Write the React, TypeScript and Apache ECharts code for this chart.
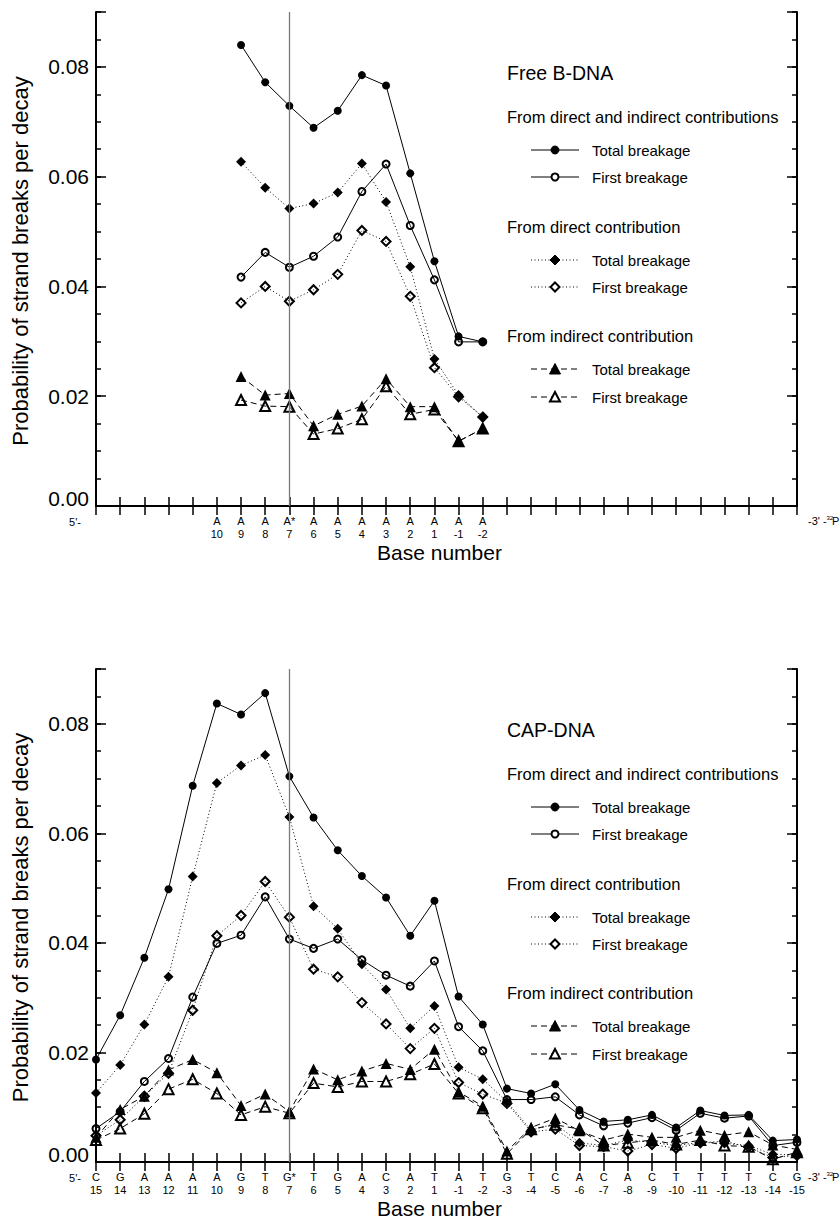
import React, { useEffect, useRef } from 'react';
import * as echarts from 'echarts';

// Base positions along the strand (shared by both panels)
const baseNumbers = ['15', '14', '13', '12', '11', '10', '9', '8', '7', '6', '5', '4', '3', '2', '1',
  '-1', '-2', '-3', '-4', '-5', '-6', '-7', '-8', '-9', '-10', '-11', '-12', '-13', '-14', '-15'];

// CAP-DNA sequence
const capBases = ['C', 'G', 'A', 'A', 'A', 'A', 'G', 'T', 'G*', 'T', 'G', 'A', 'C', 'A', 'T',
  'A', 'T', 'G', 'T', 'C', 'A', 'C', 'A', 'C', 'T', 'T', 'T', 'T', 'C', 'G'];

// Free B-DNA sequence (positions 10 .. -2)
const freeNumbers = ['10', '9', '8', '7', '6', '5', '4', '3', '2', '1', '-1', '-2'];
const freeBases = ['A', 'A', 'A', 'A*', 'A', 'A', 'A', 'A', 'A', 'A', 'A', 'A'];

// Free B-DNA probabilities (aligned with freeNumbers)
const freeTotalAll = [null, 0.0840, 0.0772, 0.0729, 0.0689, 0.0720, 0.0785, 0.0766, 0.0606, 0.0446, 0.0309, 0.0299];
const freeFirstAll = [null, 0.0417, 0.0462, 0.0435, 0.0455, 0.0490, 0.0573, 0.0623, 0.0511, 0.0412, 0.0299, 0.0299];
const freeTotalDirect = [null, 0.0627, 0.0580, 0.0542, 0.0551, 0.0571, 0.0624, 0.0554, 0.0436, 0.0268, 0.0202, 0.0162];
const freeFirstDirect = [null, 0.0370, 0.0400, 0.0373, 0.0394, 0.0422, 0.0502, 0.0482, 0.0382, 0.0252, 0.0199, 0.0162];
const freeTotalIndirect = [null, 0.0236, 0.0202, 0.0205, 0.0146, 0.0167, 0.0182, 0.0232, 0.0181, 0.0181, 0.0118, 0.0141];
const freeFirstIndirect = [null, 0.0193, 0.0182, 0.0181, 0.0131, 0.0141, 0.0158, 0.0218, 0.0167, 0.0176, 0.0118, 0.0141];

// CAP-DNA probabilities (aligned with baseNumbers)
const capTotalAll = [0.0187, 0.0268, 0.0373, 0.0498, 0.0687, 0.0837, 0.0817, 0.0856, 0.0704, 0.0629,
  0.0569, 0.0522, 0.0483, 0.0413, 0.0477, 0.0302, 0.0251, 0.0134, 0.0125, 0.0142,
  0.0095, 0.0074, 0.0077, 0.0086, 0.0063, 0.0094, 0.0085, 0.0086, 0.0039, 0.0041];
const capFirstAll = [0.0061, 0.0092, 0.0147, 0.0189, 0.0301, 0.0399, 0.0414, 0.0484, 0.0407, 0.0390,
  0.0407, 0.0369, 0.0341, 0.0321, 0.0367, 0.0247, 0.0203, 0.0114, 0.0114, 0.0119,
  0.0086, 0.0066, 0.0071, 0.0081, 0.0058, 0.0089, 0.0080, 0.0084, 0.0030, 0.0036];
const capTotalDirect = [0.0126, 0.0177, 0.0251, 0.0338, 0.0521, 0.0692, 0.0724, 0.0743, 0.0630, 0.0467,
  0.0426, 0.0361, 0.0315, 0.0244, 0.0285, 0.0173, 0.0151, 0.0110, 0.0058, 0.0070,
  0.0035, 0.0030, 0.0040, 0.0036, 0.0030, 0.0036, 0.0034, 0.0030, 0.0014, 0.0013];
const capFirstDirect = [0.0048, 0.0077, 0.0120, 0.0162, 0.0277, 0.0413, 0.0450, 0.0512, 0.0447, 0.0352,
  0.0338, 0.0291, 0.0252, 0.0207, 0.0244, 0.0145, 0.0124, 0.0107, 0.0055, 0.0060,
  0.0030, 0.0028, 0.0020, 0.0032, 0.0025, 0.0035, 0.0038, 0.0027, 0.0008, 0.0012];
const capTotalIndirect = [0.0045, 0.0096, 0.0120, 0.0168, 0.0187, 0.0163, 0.0103, 0.0124, 0.0092, 0.0170,
  0.0150, 0.0166, 0.0180, 0.0169, 0.0206, 0.0128, 0.0102, 0.0020, 0.0063, 0.0080,
  0.0057, 0.0040, 0.0051, 0.0045, 0.0045, 0.0058, 0.0049, 0.0055, 0.0031, 0.0023];
const capFirstIndirect = [0.0040, 0.0061, 0.0088, 0.0133, 0.0151, 0.0125, 0.0086, 0.0101, 0.0089, 0.0144,
  0.0137, 0.0147, 0.0147, 0.0160, 0.0179, 0.0125, 0.0098, 0.0015, 0.0060, 0.0068,
  0.0060, 0.0030, 0.0035, 0.0040, 0.0032, 0.0040, 0.0030, 0.0028, 0.0005, 0.0018];

const yTicks = [0, 0.02, 0.04, 0.06, 0.08];

const FONT = "'Liberation Sans', Arial, Helvetica, sans-serif";
const DOTTED = [1, 2.5];
const DASHED = [6, 4];

// Marker / line style for each of the six curves
const curveStyles = [
  { shape: 'circle', filled: true, dash: 'solid' as any, size: 8 },
  { shape: 'circle', filled: false, dash: 'solid' as any, size: 8 },
  { shape: 'diamond', filled: true, dash: DOTTED, size: 10 },
  { shape: 'diamond', filled: false, dash: DOTTED, size: 10 },
  { shape: 'triangle', filled: true, dash: DASHED, size: 11 },
  { shape: 'triangle', filled: false, dash: DASHED, size: 11 },
];

const panels = [
  {
    title: 'Free B-DNA', top: 12, height: 494,
    numbers: freeNumbers,
    curves: [freeTotalAll, freeFirstAll, freeTotalDirect, freeFirstDirect, freeTotalIndirect, freeFirstIndirect],
    label: (v: string) => {
      const i = freeNumbers.indexOf(v);
      return i >= 0 ? freeBases[i] + '\n' + v : '';
    },
  },
  {
    title: 'CAP-DNA', top: 669, height: 493,
    numbers: baseNumbers,
    curves: [capTotalAll, capFirstAll, capTotalDirect, capFirstDirect, capTotalIndirect, capFirstIndirect],
    label: (v: string) => {
      const i = baseNumbers.indexOf(v);
      return capBases[i] + '\n' + v;
    },
  },
];

const GRID_LEFT = 96;
const GRID_RIGHT = 797;
const Y_MAX = 0.09;

function markerGraphic(kind: string, filled: boolean, cx: number, cy: number) {
  const style = filled
    ? { fill: '#000', stroke: '#000', lineWidth: 1 }
    : { fill: '#fff', stroke: '#000', lineWidth: 2 };
  if (kind === 'circle') {
    return { type: 'circle', shape: { cx, cy, r: filled ? 4 : 3.5 }, style };
  }
  if (kind === 'diamond') {
    const r = filled ? 5 : 4.5;
    return { type: 'polygon', shape: { points: [[cx, cy - r], [cx + r, cy], [cx, cy + r], [cx - r, cy]] }, style };
  }
  const h = filled ? 5.5 : 5;
  return { type: 'polygon', shape: { points: [[cx, cy - h], [cx + h, cy + h - 0.5], [cx - h, cy + h - 0.5]] }, style };
}

function legendGraphics(oy: number, title: string) {
  const els: any[] = [];
  const textAt = (x: number, y: number, text: string, size: number) => ({
    type: 'text', x, y: y + oy, silent: true,
    style: { text, fontSize: size, fontFamily: FONT, fill: '#000', textAlign: 'left', textVerticalAlign: 'middle' },
  });
  els.push(textAt(507, 73, title, 19.5));
  const headers = [
    ['From direct and indirect contributions', 117],
    ['From direct contribution', 227],
    ['From indirect contribution', 336],
  ];
  const rows = [150, 177, 260, 287, 369, 397];
  headers.forEach(([t, y]) => els.push(textAt(507, y as number, t as string, 16.5)));
  rows.forEach((y, i) => {
    const st = curveStyles[i];
    const yy = y + oy;
    const lineStyle: any = { stroke: '#000', lineWidth: 1 };
    if (Array.isArray(st.dash)) lineStyle.lineDash = st.dash;
    els.push({ type: 'line', silent: true, shape: { x1: 531, y1: yy, x2: 579, y2: yy }, style: lineStyle });
    els.push({ ...markerGraphic(st.shape, st.filled, 555, yy), silent: true });
    els.push(textAt(592, y, i % 2 === 0 ? 'Total breakage' : 'First breakage', 15));
  });
  return els;
}

function panelTexts(top: number, height: number) {
  const bottom = top + height;
  const els: any[] = [];
  const base = { fontFamily: FONT, fill: '#000' };
  els.push({
    type: 'text', x: 20, y: top + height / 2 + 2, rotation: Math.PI / 2, silent: true,
    style: { ...base, text: 'Probability of strand breaks per decay', fontSize: 22, textAlign: 'center', textVerticalAlign: 'middle' },
  });
  els.push({
    type: 'text', x: (GRID_LEFT + GRID_RIGHT) / 2 - 7, y: bottom + 46, silent: true,
    style: { ...base, text: 'Base number', fontSize: 21, textAlign: 'center', textVerticalAlign: 'middle' },
  });
  els.push({
    type: 'text', x: 75, y: bottom + 16, silent: true,
    style: { ...base, text: "5'-", fontSize: 11, textAlign: 'center', textVerticalAlign: 'middle' },
  });
  els.push({
    type: 'text', x: 808, y: bottom + 15, silent: true,
    style: { ...base, text: "-3' -", fontSize: 11, textAlign: 'left', textVerticalAlign: 'middle' },
  });
  els.push({
    type: 'text', x: 826.5, y: bottom + 12, silent: true,
    style: { ...base, text: '32', fontSize: 6, textAlign: 'left', textVerticalAlign: 'middle' },
  });
  els.push({
    type: 'text', x: 832, y: bottom + 15, silent: true,
    style: { ...base, text: 'P', fontSize: 11, textAlign: 'left', textVerticalAlign: 'middle' },
  });
  return els;
}

function buildOption() {
  const grid: any[] = [];
  const xAxis: any[] = [];
  const yAxis: any[] = [];
  const series: any[] = [];
  const graphic: any[] = [];

  panels.forEach((p, g) => {
    grid.push({ left: GRID_LEFT, width: GRID_RIGHT - GRID_LEFT, top: p.top, height: p.height, containLabel: false });

    const xCommon = {
      gridIndex: g, type: 'category', data: baseNumbers, boundaryGap: false,
      axisLine: { show: true, lineStyle: { color: '#000', width: 2 } },
      axisTick: { show: true, inside: true, length: 9, interval: 0, lineStyle: { color: '#000', width: 1.5 } },
      splitLine: { show: false },
    };
    xAxis.push({
      ...xCommon, position: 'bottom',
      axisLabel: {
        show: true, interval: 0, margin: 8, color: '#000', fontSize: 11, lineHeight: 13, fontFamily: FONT,
        formatter: (v: string) => p.label(v),
      },
    });
    xAxis.push({ ...xCommon, position: 'top', axisLabel: { show: false } });

    ['left', 'right'].forEach((side) => {
      yAxis.push({
        gridIndex: g, type: 'value', position: side, min: 0, max: Y_MAX, interval: 0.005,
        axisLine: { show: true, lineStyle: { color: '#000', width: 2 } },
        axisTick: { show: true, inside: true, length: 5, lineStyle: { color: '#000', width: 1.5 } },
        splitLine: { show: false },
        axisLabel: {
          show: side === 'left', margin: 7, color: '#000', fontSize: 21, fontFamily: FONT,
          // the zero label sits a little above the bottom frame
          rich: { z: { fontSize: 21, fontFamily: FONT, color: '#000', padding: [0, 0, 16, 0] } },
          formatter: (v: number) => {
            const hit = yTicks.find((t) => Math.abs(t - v) < 1e-7);
            if (hit === undefined) return '';
            return hit === 0 ? '{z|' + hit.toFixed(2) + '}' : hit.toFixed(2);
          },
        },
      });
      yAxis.push({
        gridIndex: g, type: 'value', position: side, min: 0, max: Y_MAX, interval: 0.02,
        axisLine: { show: false },
        axisTick: { show: true, inside: true, length: 10, lineStyle: { color: '#000', width: 1.5 } },
        splitLine: { show: false },
        axisLabel: { show: false },
      });
    });

    p.curves.forEach((vals, ci) => {
      const st = curveStyles[ci];
      const data = (vals as (number | null)[])
        .map((v, i) => [p.numbers[i], v])
        .filter((d) => d[1] !== null);
      const s: any = {
        type: 'line', xAxisIndex: g * 2, yAxisIndex: g * 4, data,
        symbol: st.shape, symbolSize: st.filled ? st.size : st.size - 1,
        showAllSymbol: true, silent: true,
        lineStyle: { color: '#000', width: 1, type: st.dash },
        itemStyle: st.filled
          ? { color: '#000', borderColor: '#000', borderWidth: 0 }
          : { color: 'rgba(255,255,255,0)', borderColor: '#000', borderWidth: 2 },
        emphasis: { disabled: true },
        z: 3 + (st.filled ? 1 : 0),
      };
      if (ci === 0) {
        s.markLine = {
          silent: true, symbol: ['none', 'none'], label: { show: false },
          lineStyle: { color: '#7a7a7a', width: 1.3, type: 'solid' },
          data: [{ xAxis: '7' }],
        };
      }
      series.push(s);
    });

    graphic.push(...legendGraphics(p.top - 12, p.title));
    graphic.push(...panelTexts(p.top, p.height));
  });

  return {
    animation: false,
    backgroundColor: '#fff',
    textStyle: { fontFamily: FONT },
    grid, xAxis, yAxis, series, graphic,
  };
}

export default function App() {
  const ref = useRef<HTMLDivElement>(null);
  useEffect(() => {
    if (!ref.current) return;
    const chart = echarts.init(ref.current, null, { renderer: 'svg' });
    chart.setOption(buildOption() as any);
    return () => chart.dispose();
  }, []);
  return <div ref={ref} style={{ position: 'absolute', left: 0, top: 0, width: 840, height: 1218 }} />;
}
